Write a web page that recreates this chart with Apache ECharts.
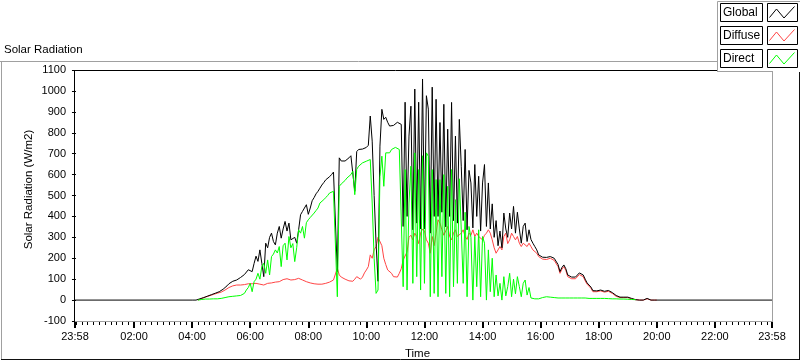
<!DOCTYPE html>
<html>
<head>
<meta charset="utf-8">
<script src="https://cdn.jsdelivr.net/npm/echarts@6/dist/echarts.min.js"></script>
<style>
html,body{margin:0;padding:0;background:#fff;}
#chart{width:800px;height:361px;}
</style>
</head>
<body>
<div id="chart"></div>
<script>
// ---- time grid of the samples (minutes since 00:00) ----
const T_START = 240;   // 04:00
const T_STEP = 4;      // minutes between samples
const DAY_START = -2;  // 23:58 previous day
const DAY_END = 1438;  // 23:58

// ---- x-axis tick labels ----
const xTickValues = [-2, 120, 240, 360, 480, 600, 720, 840, 960, 1080, 1200, 1320, 1438];
const xTickLabels = ['23:58','02:00','04:00','06:00','08:00','10:00','12:00','14:00','16:00','18:00','20:00','22:00','23:58'];

// ---- series values, one row per hour (04:00 .. 19:56), then 20:00 ----
const globalVals = [
  0,0,0,3,6,9,12,16,19,22,26,29,33,36,40,
  45,52,60,68,78,86,90,94,96,100,108,114,122,130,145,
  152,136,175,210,185,240,176,112,272,250,300,320,280,264,320,
  352,296,340,376,330,368,288,280,300,272,336,408,424,440,456,
  410,440,475,490,508,520,535,550,562,575,582,590,600,612,620,
  136,680,665,656,665,672,680,690,696,520,710,720,718,722,728,
  730,740,880,760,500,272,90,736,912,864,874,850,832,830,835,
  840,850,850,840,352,946,400,784,927,336,1009,368,946,340,1057,
  340,977,913,320,1018,400,960,400,849,420,936,350,817,400,945,
  380,784,368,864,640,380,720,336,620,560,345,648,400,592,330,
  560,648,352,560,340,460,300,380,260,330,250,416,340,300,416,
  340,448,320,420,340,272,352,368,280,336,290,272,256,240,216,
  216,205,200,204,206,208,205,200,192,170,136,156,168,150,120,
  115,110,104,110,118,130,136,120,100,82,72,62,45,38,44,
  52,48,40,42,50,46,40,36,30,22,17,14,12,14,14,
  14,10,8,5,2,0,0,0,0,0,8,4,0,0,0,
  0
];
const diffuseVals = [
  null,null,null,0,5,8,12,15,18,21,24,27,30,33,36,
  38,42,48,54,60,64,68,70,72,72,72,72,74,76,78,
  80,78,80,80,78,76,74,72,76,80,84,82,84,86,88,
  88,92,98,104,102,98,96,96,98,102,104,100,96,92,88,
  86,82,80,78,76,76,76,76,78,80,82,86,88,96,104,
  152,120,110,104,100,96,92,88,90,100,112,106,100,110,130,
  144,160,216,200,240,256,300,304,260,200,170,144,140,128,112,
  104,110,128,150,192,200,230,300,310,288,320,304,270,320,340,
  330,288,272,224,304,260,320,384,368,336,310,318,352,304,288,
  320,336,304,310,320,336,304,290,320,310,336,304,320,304,304,
  288,310,320,336,320,288,250,224,240,256,240,304,320,270,288,
  320,304,288,304,272,256,272,272,256,272,256,240,232,224,208,
  208,196,190,194,198,200,196,190,182,160,128,148,160,142,112,
  106,102,96,102,110,122,128,112,92,76,66,56,40,34,40,
  48,44,36,38,46,42,36,32,26,18,14,12,10,12,12,
  12,8,6,4,2,0,0,0,0,0,6,4,0,0,0,
  0
];
const directVals = [
  null,null,null,0,2,3,4,5,5,5,5,6,6,6,7,
  8,10,12,14,16,16,18,18,20,20,22,26,32,48,60,
  80,40,88,100,128,100,160,176,128,192,120,208,220,240,225,
  256,160,260,272,192,304,250,270,184,250,336,320,352,296,370,
  384,395,400,416,428,440,464,472,480,490,500,512,516,520,525,
  16,544,555,560,572,584,592,600,616,504,625,640,648,656,660,
  664,668,672,464,200,32,48,590,688,544,704,704,704,720,725,
  730,725,720,712,64,624,48,464,640,80,704,112,624,48,690,
  80,704,688,16,624,32,576,16,576,112,600,32,544,16,624,
  64,480,80,580,336,80,420,16,352,300,0,304,64,336,16,
  304,272,0,240,40,200,16,120,20,80,0,112,20,64,128,
  16,100,30,112,64,16,80,96,24,60,10,8,6,6,6,
  10,12,12,16,22,14,12,12,12,10,10,10,12,10,10,
  10,10,10,10,10,10,10,10,10,8,8,8,8,8,8,
  8,8,8,8,8,7,6,6,6,6,6,5,5,5,4,
  4,4,3,3,2,null,null,null,null,null,null,null,null,null,null,
  null
];

const FONT = 'Liberation Sans';

function toPairs(vals) {
  return vals.map((v, i) => [T_START + i * T_STEP, v]);
}
const globalData = [[DAY_START, 0]].concat(toPairs(globalVals), [[DAY_END, 0]]);
const diffuseData = toPairs(diffuseVals);
const directData = toPairs(directVals);

// minor ticks every 12 minutes (positions only)
const minorTicks = [];
for (let m = 0; m <= 1428; m += 12) { if (m % 120 !== 0 || m === 0) minorTicks.push(m); }

const labelMap = {};
xTickValues.forEach((v, i) => { labelMap[v] = xTickLabels[i]; });

const chart = echarts.init(document.getElementById('chart'), null, {renderer: 'canvas'});

const legendRows = [
  {name: 'Global', color: '#000000'},
  {name: 'Diffuse', color: '#ff4444'},
  {name: 'Direct', color: '#00ff00'}
];
const graphics = [
  // outer frame
  {type: 'line', shape: {x1: 0, y1: 61.5, x2: 717, y2: 61.5}, style: {stroke: '#a0a0a0', lineWidth: 1}},
  {type: 'line', shape: {x1: 1.5, y1: 61, x2: 1.5, y2: 360}, style: {stroke: '#a0a0a0', lineWidth: 1}},
  {type: 'line', shape: {x1: 1, y1: 359.5, x2: 800, y2: 359.5}, style: {stroke: '#111', lineWidth: 1}},
  {type: 'line', shape: {x1: 799.5, y1: 66, x2: 799.5, y2: 360}, style: {stroke: '#111', lineWidth: 1}},
  // plot borders
  {type: 'line', shape: {x1: 74, y1: 70.5, x2: 717, y2: 70.5}, style: {stroke: '#000', lineWidth: 1}, z: 10},
  {type: 'line', shape: {x1: 74.5, y1: 70, x2: 74.5, y2: 322}, style: {stroke: '#000', lineWidth: 1}, z: 10},
  {type: 'line', shape: {x1: 772.5, y1: 71, x2: 772.5, y2: 322}, style: {stroke: '#a0a0a0', lineWidth: 1}, z: 10},
  {type: 'line', shape: {x1: 75, y1: 321.5, x2: 773, y2: 321.5}, style: {stroke: '#a0a0a0', lineWidth: 1}, z: 10},
  // legend panel
  {type: 'rect', shape: {x: 717, y: 1, width: 83, height: 71}, style: {fill: '#fff'}, z: 20},
  {type: 'line', shape: {x1: 717.5, y1: 1.5, x2: 717.5, y2: 72}, style: {stroke: '#a0a0a0', lineWidth: 1}, z: 21},
  {type: 'line', shape: {x1: 717.5, y1: 1.5, x2: 800, y2: 1.5}, style: {stroke: '#a0a0a0', lineWidth: 1}, z: 21},
  {type: 'line', shape: {x1: 717.5, y1: 71.5, x2: 773, y2: 71.5}, style: {stroke: '#a0a0a0', lineWidth: 1}, z: 21}
];
legendRows.forEach((r, k) => {
  const t = 3.5 + k * 23;
  graphics.push(
    {type: 'rect', shape: {x: 720.5, y: t, width: 42, height: 18}, style: {fill: '#fff', stroke: '#000', lineWidth: 1}, z: 22},
    {type: 'text', style: {x: 723, y: t + 9.5, text: r.name, fill: '#000', font: '12px "' + FONT + '"', verticalAlign: 'middle', align: 'left'}, z: 23},
    {type: 'rect', shape: {x: 767.5, y: t, width: 30, height: 18}, style: {fill: '#fff', stroke: '#000', lineWidth: 1}, z: 22},
    {type: 'polyline', shape: {points: [[769.5, t + 14], [776.5, t + 5.5], [784, t + 14.5], [794.5, t + 3]]}, style: {stroke: r.color, lineWidth: 1, fill: null}, z: 23}
  );
});

const option = {
  animation: false,
  backgroundColor: '#ffffff',
  title: {
    text: 'Solar Radiation', left: 4, top: 44, padding: 0,
    textStyle: {fontFamily: FONT, fontSize: 11.5, fontWeight: 'normal', color: '#000'}
  },
  grid: {left: 75, right: 28, top: 70, bottom: 40, containLabel: false, outerBoundsMode: 'none'},
  xAxis: [
    {
      type: 'value', min: DAY_START, max: DAY_END, position: 'bottom', offset: 1,
      axisLine: {show: false, onZero: false},
      axisTick: {show: true, customValues: xTickValues, length: 6, lineStyle: {color: '#000', width: 2}},
      axisLabel: {
        show: true, customValues: xTickValues, margin: 9,
        formatter: (v) => labelMap[v] !== undefined ? labelMap[v] : '',
        fontFamily: FONT, fontSize: 11, color: '#000'
      },
      splitLine: {show: false},
      name: 'Time', nameLocation: 'middle', nameGap: 26, nameMoveOverlap: false,
      nameTextStyle: {fontFamily: FONT, fontSize: 11.5, color: '#000', padding: [0, 12, 0, 0]}
    },
    {
      type: 'value', min: DAY_START, max: DAY_END, position: 'bottom', offset: 1,
      axisLine: {show: false, onZero: false},
      axisTick: {show: true, customValues: minorTicks, length: 3, lineStyle: {color: '#000', width: 1}},
      axisLabel: {show: false},
      splitLine: {show: false}
    }
  ],
  yAxis: {
    type: 'value', min: -100, max: 1100, interval: 100, offset: 3,
    axisLine: {show: false},
    axisTick: {show: true, length: 4, lineStyle: {color: '#000'}},
    axisLabel: {margin: 6, fontFamily: FONT, fontSize: 11, color: '#000', formatter: (v) => String(v)},
    splitLine: {show: false},
    name: 'Solar Radiation (W/m2)', nameLocation: 'middle', nameGap: 37, nameMoveOverlap: false,
    nameTextStyle: {fontFamily: FONT, fontSize: 11.5, color: '#000', padding: [0, 0, 0, 12]}
  },
  series: [
    {name: 'Diffuse', type: 'line', data: diffuseData, xAxisIndex: 0, showSymbol: false, symbol: 'none',
     lineStyle: {color: '#ff4444', width: 1}, itemStyle: {color: '#ff4444'}, z: 2},
    {name: 'Global', type: 'line', data: globalData, xAxisIndex: 0, showSymbol: false, symbol: 'none',
     lineStyle: {color: '#000000', width: 1}, itemStyle: {color: '#000000'}, z: 3},
    {name: 'Direct', type: 'line', data: directData, xAxisIndex: 0, showSymbol: false, symbol: 'none',
     lineStyle: {color: '#00ff00', width: 1}, itemStyle: {color: '#00ff00'}, z: 4}
  ],
  graphic: graphics
};
chart.setOption(option);
</script>
</body>
</html>
